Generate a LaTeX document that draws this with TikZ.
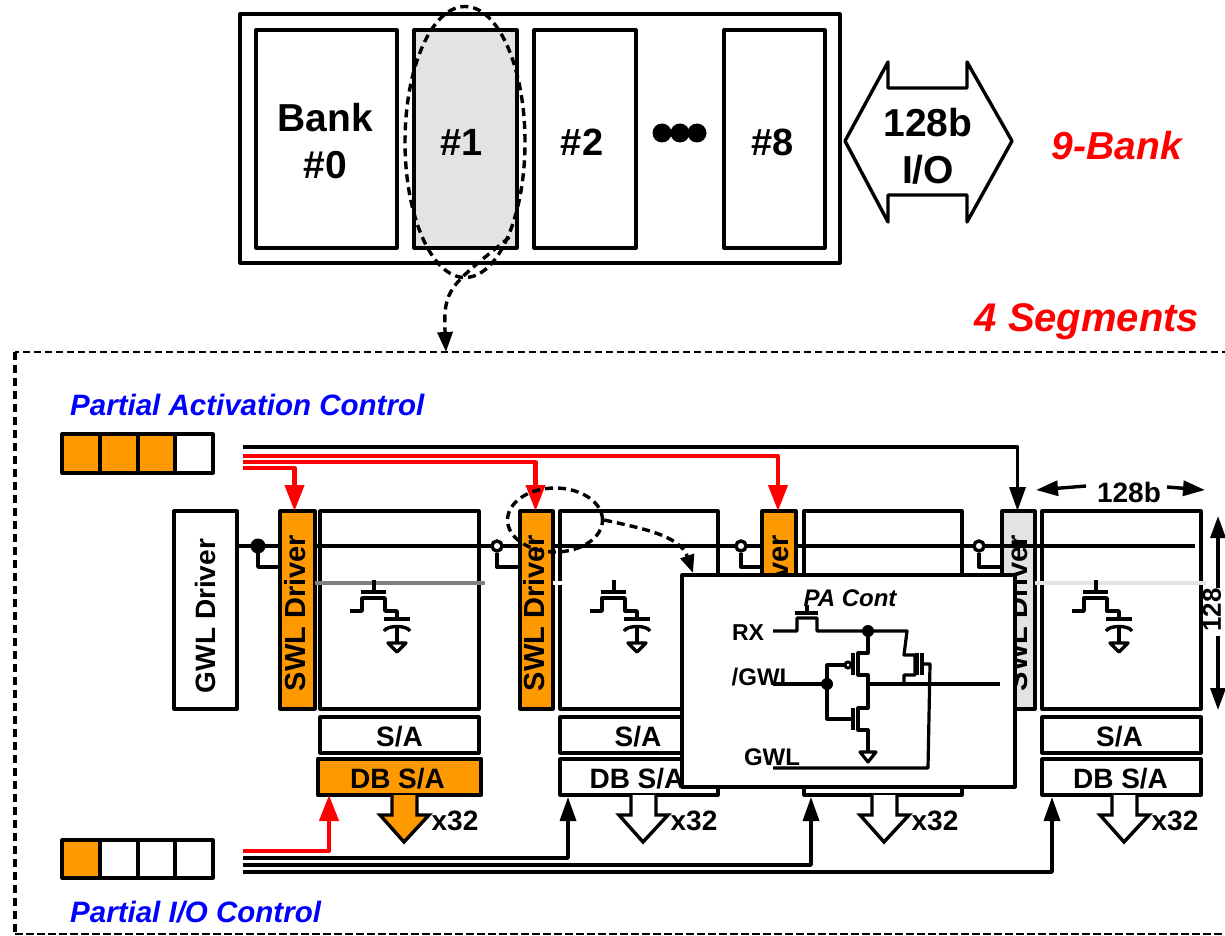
\documentclass[tikz,border=0pt]{standalone}
\usepackage{fontspec}
\setmainfont{Liberation Sans}
\usetikzlibrary{arrows.meta,shapes.geometric}
\definecolor{acc}{HTML}{FF9900}
\definecolor{shade}{HTML}{E3E3E3}
\newcommand{\fs}[1]{\fontsize{#1pt}{\dimexpr #1pt*6/5\relax}\selectfont}
\newcommand{\blk}[6]{% name x1 y1 x2 y2 opts
  \pgfmathsetmacro{\cxx}{(#2+#4)/2}\pgfmathsetmacro{\cyy}{(#3+#5)/2}
  \pgfmathsetmacro{\bwd}{#4-#2}\pgfmathsetmacro{\bht}{#5-#3}
  \node[box,minimum width=\bwd pt,minimum height=\bht pt,#6] (#1) at (\cxx,\cyy) {};}
\tikzset{
  box/.style={draw=black,line width=3.2pt,fill=white,inner sep=0pt,outer sep=0pt,line join=round},
  lab/.style n args={4}{label={[font=\bfseries\fs{#3},align=center,inner sep=0pt,xshift=#1pt,yshift=#2pt]center:{#4}}},
  rlab/.style n args={4}{label={[font=\bfseries\fs{#3},inner sep=0pt,xshift=#1pt,yshift=#2pt,rotate=90]center:{#4}}},
  wire/.style={draw=black,line width=3.4pt,line join=round},
  thin wire/.style={draw=black,line width=3.2pt,line join=round},
  redwire/.style={draw=red,line width=4.2pt,line join=round},
  blackarrow/.style={wire,-{Triangle[length=24pt,width=16pt]}},
  redarrow/.style={redwire,-{Triangle[length=26pt,width=19pt]}},
  dimarrow/.style={wire,-{Triangle[length=22pt,width=15pt]}},
  dsh/.style={draw=black,line width=3.4pt,dash pattern=on 8pt off 5pt},
  dota/.style={circle,fill=black,inner sep=0pt,minimum size=12pt},
  dotb/.style={circle,draw=black,line width=3.4pt,fill=white,inner sep=0pt,minimum size=10pt},
  tag/.style={font=\bfseries\fs{28},inner sep=0pt},
  rhead/.style={font=\bfseries\itshape\fs{39},text=red,inner sep=0pt},
  bhead/.style={font=\bfseries\itshape\fs{29.5},text=blue,inner sep=0pt,anchor=west},
  pin/.style={font=\bfseries\fs{24},inner sep=0pt},
  outarrow/.style={draw=black,line width=3.4pt,miter limit=10}
}
\begin{document}
\begin{tikzpicture}[x=1pt,y=-1pt]
\useasboundingbox (0,0) rectangle (1225,936);
\fill[white] (0,0) rectangle (1225,936);
% --- bank row
\blk{chip}{240}{14}{840}{263}{}
\blk{bank0}{256}{30}{397}{248}{lab={-1}{-2}{39}{Bank\\\#0}}
\blk{bank1}{414}{30}{517}{248}{fill=shade,lab={-4}{-3}{38}{\#1}}
\blk{bank2}{534}{30}{636}{248}{lab={-3}{-3}{38}{\#2}}
\blk{bank8}{724}{30}{825}{248}{lab={-2}{-3}{38}{\#8}}
\foreach \x/\n in {662/a,680/b,697/c}{\node[circle,fill=black,minimum size=19pt,inner sep=0pt] (ell\n) at (\x,133) {};}
\draw[wire,fill=white] (845,141)--(888,62)--(888,88)--(967,88)--(967,62)--(1012,141)--(967,222)--(967,195)--(888,195)--(888,222)--cycle;
\node[font=\bfseries\fs{39},align=center,inner sep=0pt] (iolabel) at (928,146) {128b\\I/O};
\node[rhead] (nine) at (1117,146) {9-Bank};
\node[rhead,font=\bfseries\itshape\fs{40}] (four) at (1087,322) {4 Segments};
% --- bank zoom marker
\node[draw=black,line width=3.4pt,dash pattern=on 8pt off 5pt,ellipse,minimum width=120pt,minimum height=271pt,inner sep=0pt] (ring) at (465,142) {};
\coordinate (segtop) at (446,352);
\draw[dsh,-{Triangle[length=20pt,width=15pt,sep=0pt]}] (ring.-65) .. controls (450,286) and (443,288) .. (segtop);
% --- segment frame
\draw[dsh,line width=2.8pt,dash pattern=on 7pt off 4pt] (1240,352) -- (15,352);
\draw[dsh] (15,352) -- (15,934);
\draw[dsh,line width=2.2pt,dash pattern=on 8pt off 3pt] (15,934) -- (1240,934);
\node[bhead] (pac) at (70,405) {Partial Activation Control};
\node[bhead] (pio) at (70,912) {Partial I/O Control};
% --- registers
\foreach \i/\a/\b/\c in {1/62/100/acc,2/100/138/acc,3/138/175/acc,4/175/213/white}{
  \blk{ra\i}{\a}{434}{\b}{473}{fill=\c}}
\foreach \i/\a/\b/\c in {1/62/100/acc,2/100/138/white,3/138/175/white,4/175/213/white}{
  \blk{rb\i}{\a}{840}{\b}{878}{fill=\c}}
% --- drivers and arrays
\blk{gwl}{174}{511}{237}{709}{rlab={0}{-6}{28}{GWL Driver}}
\blk{swla}{280}{511}{315}{709}{fill=acc,rlab={-2}{-3}{29}{SWL Driver}}
\blk{swlb}{520}{511}{553}{709}{fill=acc,rlab={-2}{-3}{29}{SWL Driver}}
\blk{swlc}{762}{511}{796}{709}{fill=acc,rlab={-1}{-3}{29}{SWL Driver}}
\blk{swld}{1002}{511}{1035}{709}{fill=shade,rlab={-1}{-3}{29}{SWL Driver}}
\blk{arra}{320}{511}{479}{709}{}
\blk{arrb}{560}{511}{718}{709}{}
\blk{arrc}{804}{511}{962}{709}{}
\blk{arrd}{1042}{511}{1201}{709}{}
\blk{saa}{320}{717}{479}{753}{lab={0}{-2}{28}{S/A}}
\blk{sab}{560}{717}{718}{753}{lab={-1}{-2}{28}{S/A}}
\blk{sad}{1042}{717}{1201}{753}{lab={-2}{-2}{28}{S/A}}
\blk{dba}{318}{759}{481}{795}{fill=acc,line width=4.6pt,lab={-2}{-2}{28}{DB S/A}}
\blk{dbb}{560}{759}{718}{795}{lab={-2}{-2}{28}{DB S/A}}
\blk{dbc}{804}{759}{962}{795}{lab={-2}{-2}{28}{DB S/A}}
\blk{dbd}{1042}{759}{1201}{795}{lab={-1}{-2}{28}{DB S/A}}
% --- output arrows
\foreach \dx/\c/\n in {0/acc/a,239/white/b,480/white/c,720/white/d}{
  \begin{scope}[xshift=\dx pt]
  \draw[outarrow,fill=\c] (392,795)--(392,815)--(380,815)--(404,842)--(429,815)--(417,815)--(417,795);
  \node[tag] (xx\n) at (455,821) {x32};
  \end{scope}}
% --- word lines
\draw[draw=gray,line width=3.4pt] (315,583)--(485,583);
\draw[draw=white,line width=3.4pt] (553,583)--(682,583);
\draw[draw=shade,line width=3.4pt] (1035,583)--(1206,583);
\coordinate (gwlend) at (1195,546);
\draw[wire] (237,546)--(280,546);
\draw[wire] (315,546)--(520,546);
\draw[wire] (553,546)--(762,546);
\draw[wire] (796,546)--(gwlend);
\node[dota,minimum size=15pt] (ja) at (258,546) {};
\node[dotb] (jb) at (497,546) {};
\node[dotb] (jc) at (741,546) {};
\node[dotb] (jd) at (979,546) {};
\draw[wire] (ja.center)--(258,567)--(280,567);
\draw[wire] (jb.south)--(497,567)--(520,567);
\draw[wire] (jc.south)--(741,567)--(762,567);
\draw[wire] (jd.south)--(979,567)--(1002,567);
% --- cells
\foreach \dx in {0,240,722}{
  \begin{scope}[xshift=\dx pt]
  \draw[wire] (374,580)--(374,592);
  \draw[wire] (361,592)--(386,592);
  \draw[wire] (350,611)--(362,611)--(362,598)--(385,598)--(385,611)--(397,611)--(397,619);
  \draw[wire] (384,619)--(410,619);
  \draw[wire] (384,631) .. controls (387,625) and (407,625) .. (410,631);
  \draw[wire] (397,627)--(397,643);
  \draw[wire] (388,643)--(406,643)--(397,652)--cycle;
  \end{scope}}
% --- control buses
\coordinate (ta) at (243,447);\coordinate (tb) at (243,456);\coordinate (tc) at (243,462);\coordinate (td) at (243,468);
\draw[blackarrow] (ta) -| ([xshift=-1pt]swld.north);
\draw[redarrow] (tb) -| ([xshift=-1pt]swlc.north);
\draw[redarrow] (tc) -| ([xshift=-1pt]swlb.north);
\draw[redarrow] (td) -| ([xshift=-3pt]swla.north);
\coordinate (ba) at (243,851);\coordinate (bb) at (243,858);\coordinate (bc) at (243,865);\coordinate (bd) at (243,872);
\draw[redarrow] (ba) -| (329,795);
\draw[blackarrow] (bb) -| (568,797);
\draw[blackarrow] (bc) -| (811,797);
\draw[blackarrow] (bd) -| (1052,797);
% --- dimensions
\node[tag] (widthl) at (1129,492) {128b};
\coordinate (wl) at (1036,490);\coordinate (wr) at (1205,490);
\draw[dimarrow] (1086,486)--(wl);
\draw[dimarrow] (1167,487)--(wr);
\node[tag,font=\bfseries\fs{26},rotate=90] (heightl) at (1212,610) {128};
\coordinate (ht) at (1218,516);\coordinate (hb) at (1218,710);
\draw[dimarrow] (1218,588)--(ht);
\draw[dimarrow] (1218,636)--(hb);
% --- driver zoom marker
\node[draw=black,line width=3.4pt,dash pattern=on 8pt off 5pt,ellipse,minimum width=95pt,minimum height=64pt,inner sep=0pt] (ringb) at (555,520) {};
\coordinate (inset) at (693,573);
\draw[dsh,-{Triangle[length=18pt,width=14pt,sep=0pt]}] (ringb.east) .. controls (640,528) and (680,535) .. (inset);
% --- inset
\blk{ins}{682}{575}{1015}{787}{}
\node[pin,font=\bfseries\itshape\fs{24}] (pa) at (850,598) {PA Cont};
\node[pin,font=\bfseries\fs{23}] (rx) at (748,633) {RX};
\node[pin] (ngwl) at (763,677) {/GWL};
\node[pin] (pgwl) at (772,757) {GWL};
\coordinate (rxs) at (773,631);\coordinate (ngs) at (773,684);\coordinate (gs) at (773,768);\coordinate (outs) at (1000,684);
\node[dota] (n1) at (868,631) {};
\node[dota] (n2) at (827,684) {};
\draw[thin wire] (rxs)--(797,631)--(797,618)--(817,618)--(817,631)--(907,631)--(904,655)--(915,655)--(915,675)--(904,675)--(904,684);
\draw[thin wire] (795,613)--(818,613);
\draw[thin wire] (807,605)--(807,613);
\draw[thin wire] (n1.center)--(868,653)--(858,653)--(858,675)--(868,675)--(868,708)--(858,708)--(858,730)--(868,730)--(868,752);
\draw[thin wire] (853,653)--(853,675);
\draw[thin wire] (853,708)--(853,730);
\node[circle,draw=black,line width=3pt,fill=white,inner sep=0pt,minimum size=6pt] (bub) at (848,665) {};
\draw[thin wire] (bub.west)--(827,665)--(827,719)--(853,719);
\draw[thin wire] (ngs)--(n2.center);
\draw[thin wire] (868,684)--(outs);
\draw[thin wire] (917,653)--(917,675);
\draw[thin wire] (922,653)--(922,675);
\draw[thin wire] (922,664)--(930,664)--(928,768)--(gs);
\draw[thin wire] (860,752)--(876,752)--(868,762)--cycle;
\end{tikzpicture}
\end{document}
